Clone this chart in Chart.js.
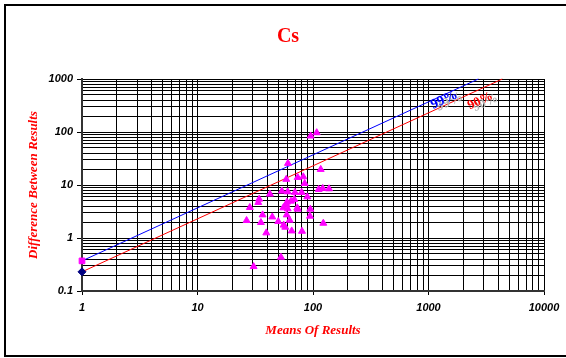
<!DOCTYPE html>
<html>
<head>
<meta charset="utf-8">
<script src="https://cdn.jsdelivr.net/npm/chart.js@4/dist/chart.umd.min.js"></script>
<style>
  html, body { margin: 0; padding: 0; background: #fff; }
  canvas { display: block; }
</style>
</head>
<body>
<canvas id="csChart" width="566" height="358"></canvas>
<script>
// Scatter: mean of results vs difference between results
const meanValues = [60.7, 116.6, 58.7, 73.7, 82.4, 84.7, 112, 121.4, 137.6, 53.8, 60.4, 69.8, 79.8, 42.4, 89.3,
  34.2, 33.6, 68.9, 64.5, 59.5, 58.7, 28.4, 55.3, 60.4, 73.1, 73.7, 94.8, 36.6, 44.4, 59.2, 94.2,
  26.6, 35.4, 50.0, 62.8, 122.8, 55.7, 57.5, 39.4, 65.4, 80.3, 52.8, 30.6, 95.5, 107.7];
const diffValues = [25.6, 19.7, 12.8, 13.9, 14.3, 10.7, 8.26, 8.63, 8.47, 7.67, 7.44, 7.25, 7.25, 6.73, 5.98,
  5.41, 4.69, 5.35, 4.96, 4.75, 4.30, 3.77, 3.71, 3.55, 3.71, 3.50, 3.50, 2.73, 2.50, 2.73, 2.58,
  2.14, 1.96, 2.05, 2.17, 1.90, 1.75, 1.60, 1.25, 1.36, 1.34, 0.434, 0.289, 84, 97];

// Control lines (99% and 90%)
const line99X = [1, 2700];
const line99Y = [0.37, 1000];
const line90X = [1, 4350];
const line90Y = [0.23, 1000];

// Axis ticks
const xMajorTicks = [1, 10, 100, 1000, 10000];
const yMajorTicks = [0.1, 1, 10, 100, 1000];
const xLabels = ['1', '10', '100', '1000', '10000'];
const yLabels = ['0.1', '1', '10', '100', '1000'];

// Where the percent labels sit (data coords)
const pctLabels = ['99%', '90%'];
const pctLabelX = [1367, 2805];
const pctLabelY = [403, 385];

function logTicks(majors) {
  const out = [];
  majors.forEach((m, i) => {
    if (i === majors.length - 1) { out.push(m); return; }
    for (let k = 1; k < 10; k++) out.push(+(m * k).toPrecision(3));
  });
  return out;
}

const toPoints = (xs, ys) => xs.map((x, i) => ({ x, y: ys[i] }));

const decorPlugin = {
  id: 'decor',
  beforeDraw(chart) {
    const ctx = chart.ctx;
    ctx.save();
    ctx.fillStyle = '#fff';
    ctx.fillRect(0, 0, chart.width, chart.height);
    ctx.restore();
  },
  afterDraw(chart) {
    const ctx = chart.ctx;
    const xs = chart.scales.x, ys = chart.scales.y;
    ctx.save();
    // outer frame
    ctx.strokeStyle = '#000';
    ctx.lineWidth = 2;
    ctx.strokeRect(5, 5, 580, 351);

    // title
    ctx.fillStyle = '#ff0000';
    ctx.font = 'bold 20px "Liberation Serif", "Times New Roman", serif';
    ctx.textAlign = 'center';
    ctx.textBaseline = 'middle';
    ctx.fillText('Cs', 288, 37);

    // percent labels along the lines
    const colors = ['#0000ff', '#ff0000'];
    const sizes = [14, 13];
    pctLabels.forEach((txt, i) => {
      const px = xs.getPixelForValue(pctLabelX[i]);
      const py = ys.getPixelForValue(pctLabelY[i]);
      ctx.save();
      ctx.font = 'bold ' + sizes[i] + 'px "Liberation Serif", "Times New Roman", serif';
      ctx.textAlign = 'center';
      ctx.textBaseline = 'middle';
      ctx.translate(px, py);
      ctx.rotate(-0.43);
      ctx.fillStyle = '#b4b4b4';
      ctx.fillText(txt, 4, 4);
      ctx.fillStyle = colors[i];
      ctx.fillText(txt, 0, 0);
      ctx.restore();
    });
    ctx.restore();
  }
};

const tickFont = { family: '"Liberation Sans", Arial, sans-serif', size: 11, weight: 'bold', style: 'italic' };
const titleFont = { family: '"Liberation Serif", "Times New Roman", serif', size: 13, weight: 'bold', style: 'italic' };

new Chart(document.getElementById('csChart'), {
  type: 'scatter',
  data: {
    datasets: [
      {
        label: 'Results',
        data: toPoints(meanValues, diffValues),
        pointStyle: 'triangle',
        pointRadius: 4,
        backgroundColor: '#ff00ff',
        borderColor: '#ff00ff',
        borderWidth: 1
      },
      {
        label: '99%',
        type: 'line',
        data: toPoints(line99X, line99Y),
        borderColor: '#0000ff',
        borderWidth: 1,
        pointStyle: 'rect',
        pointRadius: [4, 0],
        pointBackgroundColor: '#ff00ff',
        pointBorderColor: '#ff00ff',
        clip: false
      },
      {
        label: '90%',
        type: 'line',
        data: toPoints(line90X, line90Y),
        borderColor: '#ff0000',
        borderWidth: 1,
        pointStyle: 'rectRot',
        pointRadius: [4, 0],
        pointBackgroundColor: '#000080',
        pointBorderColor: '#000080',
        clip: false
      }
    ]
  },
  options: {
    responsive: false,
    animation: false,
    devicePixelRatio: 1,
    layout: { padding: { top: 79, right: 22, left: 0, bottom: 0 } },
    plugins: {
      legend: { display: false },
      tooltip: { enabled: false }
    },
    scales: {
      x: {
        type: 'logarithmic',
        min: 1,
        max: 10000,
        afterBuildTicks: scale => { scale.ticks = logTicks(xMajorTicks).map(v => ({ value: v })); },
        afterFit: scale => { scale.height = 67; },
        ticks: {
          autoSkip: false,
          maxRotation: 0,
          padding: 6,
          color: '#000',
          font: tickFont,
          callback: value => {
            const i = xMajorTicks.indexOf(value);
            return i >= 0 ? xLabels[i] : '';
          }
        },
        grid: {
          color: '#000',
          lineWidth: 1,
          tickLength: 4,
          tickColor: ctx => (ctx.tick && xMajorTicks.includes(ctx.tick.value)) ? '#000' : 'rgba(0,0,0,0)'
        },
        border: { color: '#333', width: 2 },
        title: {
          display: true,
          text: 'Means Of Results',
          color: '#ff0000',
          font: titleFont,
          padding: { top: 0, bottom: 20 }
        }
      },
      y: {
        type: 'logarithmic',
        min: 0.1,
        max: 1000,
        afterBuildTicks: scale => { scale.ticks = logTicks(yMajorTicks).map(v => ({ value: v })); },
        afterFit: scale => { scale.width = 82; },
        ticks: {
          autoSkip: false,
          padding: 4,
          color: '#000',
          font: tickFont,
          callback: value => {
            const i = yMajorTicks.indexOf(value);
            return i >= 0 ? yLabels[i] : '';
          }
        },
        grid: {
          color: '#000',
          lineWidth: 1,
          tickLength: 5,
          tickColor: ctx => (ctx.tick && yMajorTicks.includes(ctx.tick.value)) ? '#000' : 'rgba(0,0,0,0)'
        },
        border: { color: '#333', width: 2 },
        title: {
          display: true,
          text: 'Difference Between Results',
          color: '#ff0000',
          font: titleFont,
          padding: { top: 26, bottom: 0 }
        }
      }
    }
  },
  plugins: [decorPlugin]
});
</script>
</body>
</html>
